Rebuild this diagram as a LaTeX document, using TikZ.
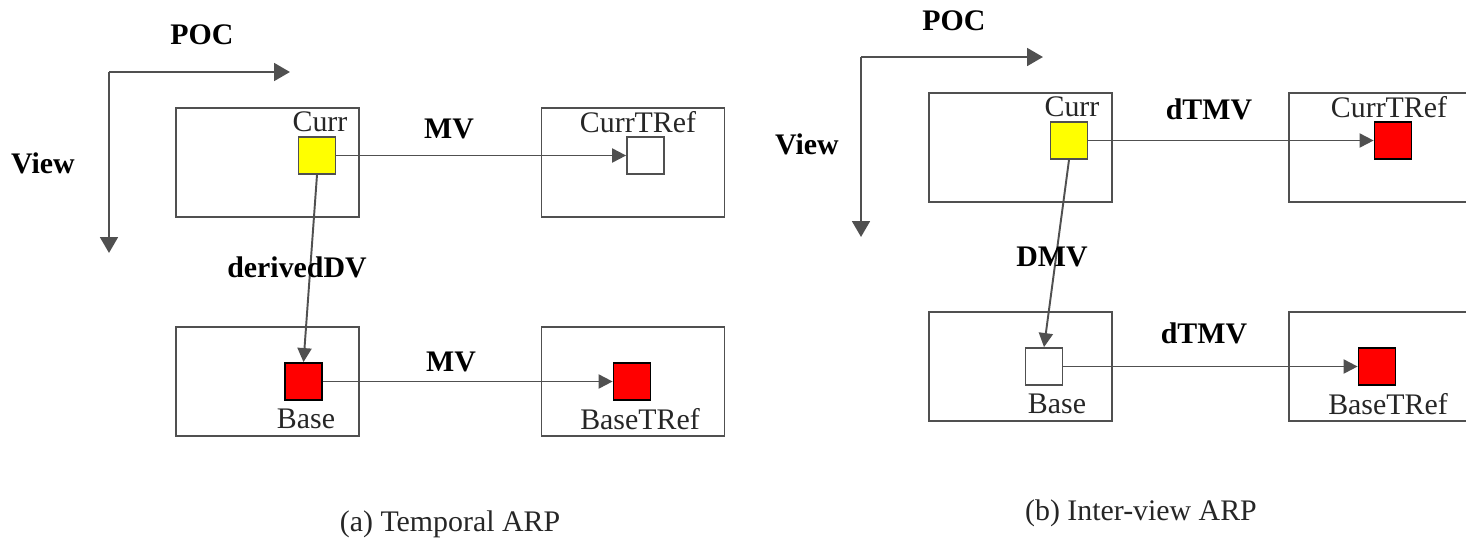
\documentclass[tikz,border=0pt]{standalone}
\usepackage{fontspec}
\setmainfont{Liberation Serif}
\usetikzlibrary{arrows.meta, positioning}
\definecolor{linegray}{RGB}{80,80,80}
\definecolor{curryellow}{RGB}{255,255,0}
\definecolor{refred}{RGB}{255,0,0}

\begin{document}
\begin{tikzpicture}[x=0.02cm, y=-0.02cm,
    frame/.style={draw=linegray, line width=1.1pt, minimum width=3.66cm, minimum height=2.18cm, inner sep=0pt},
    blk/.style={draw=linegray, line width=1pt, minimum width=0.74cm, minimum height=0.74cm, inner sep=0pt},
    txt/.style={font=\fontsize{17}{20}\selectfont, inner sep=0pt, text=black!85},
    btxt/.style={font=\fontsize{17}{20}\selectfont\bfseries, inner sep=0pt},
    axis/.style={draw=linegray, line width=1.5pt, -{Triangle[length=9pt,width=10pt]}},
    mv/.style={draw=linegray, line width=1.1pt, -{Triangle[length=8pt,width=8pt]}}]
    \useasboundingbox (0,0) rectangle (1466,538);

    % (a) Temporal ARP: axes
    \coordinate (oa) at (109,72);
    \coordinate (pocA) at (290,72);
    \coordinate (viewA) at (109,253);
    \draw[axis] (oa) -- (pocA);
    \draw[axis] (oa) -- (viewA);
    \node[btxt] (pocAlbl) at (202,35) {POC};
    \node[btxt] (viewAlbl) at (43,163) {View};

    % (a) pictures
    \node[frame] (currA) at (267.5,162.5) {};
    \node[frame] (currTRefA) at (633,162.5) {};
    \node[frame] (baseA) at (267.5,381.5) {};
    \node[frame] (baseTRefA) at (633,381.5) {};

    % (a) blocks
    \node[blk, fill=curryellow] (cA) at (317,155.5) {};
    \node[blk, fill=white] (ctA) at (645.5,155.5) {};
    \node[blk, fill=refred, draw=black] (bA) at (303.5,381.5) {};
    \node[blk, fill=refred, draw=black] (btA) at (632,381.5) {};
    \node[txt] (cAlbl) at (320,122) {Curr};
    \node[txt] (ctAlbl) at (638,122) {CurrTRef};
    \node[txt] (bAlbl) at (306,419) {Base};
    \node[txt] (btAlbl) at (640,419) {BaseTRef};

    % (a) vectors
    \draw[mv] (cA) -- (ctA);
    \draw[mv] (cA.south) -- (bA.north);
    \draw[mv] (bA) -- (btA);
    \node[btxt] (mvA1) at (449,129) {MV};
    \node[btxt] (ddvA) at (297,267) {derivedDV};
    \node[btxt] (mvA2) at (451,362) {MV};
    \node[txt] (capA) at (450,524) {(a) Temporal ARP};

    % (b) Inter-view ARP: axes
    \coordinate (ob) at (861,57);
    \coordinate (pocB) at (1043,57);
    \coordinate (viewB) at (861,237);
    \draw[axis] (ob) -- (pocB);
    \draw[axis] (ob) -- (viewB);
    \node[btxt] (pocBlbl) at (954,21) {POC};
    \node[btxt] (viewBlbl) at (807,144) {View};

    % (b) pictures
    \node[frame] (currB) at (1020.5,147.5) {};
    \node[frame] (currTRefB) at (1380.5,147.5) {};
    \node[frame] (baseB) at (1020.5,366.5) {};
    \node[frame] (baseTRefB) at (1380.5,366.5) {};

    % (b) blocks
    \node[blk, fill=curryellow] (cB) at (1069,140.5) {};
    \node[blk, fill=refred, draw=black] (ctB) at (1393,140.5) {};
    \node[blk, fill=white] (bB) at (1044,366.5) {};
    \node[blk, fill=refred, draw=black] (btB) at (1377,366.5) {};
    \node[txt] (cBlbl) at (1072,107) {Curr};
    \node[txt] (ctBlbl) at (1389,107) {CurrTRef};
    \node[txt] (bBlbl) at (1057,404) {Base};
    \node[txt] (btBlbl) at (1388,404) {BaseTRef};

    % (b) vectors
    \draw[mv] (cB) -- (ctB);
    \draw[mv] (cB.south) -- (bB.north);
    \draw[mv] (bB) -- (btB);
    \node[btxt] (tmvB1) at (1209,109) {dTMV};
    \node[btxt] (dmvB) at (1052,257) {DMV};
    \node[btxt] (tmvB2) at (1204,333) {dTMV};
    \node[txt] (capB) at (1141,513) {(b) Inter-view ARP};
\end{tikzpicture}
\end{document}
